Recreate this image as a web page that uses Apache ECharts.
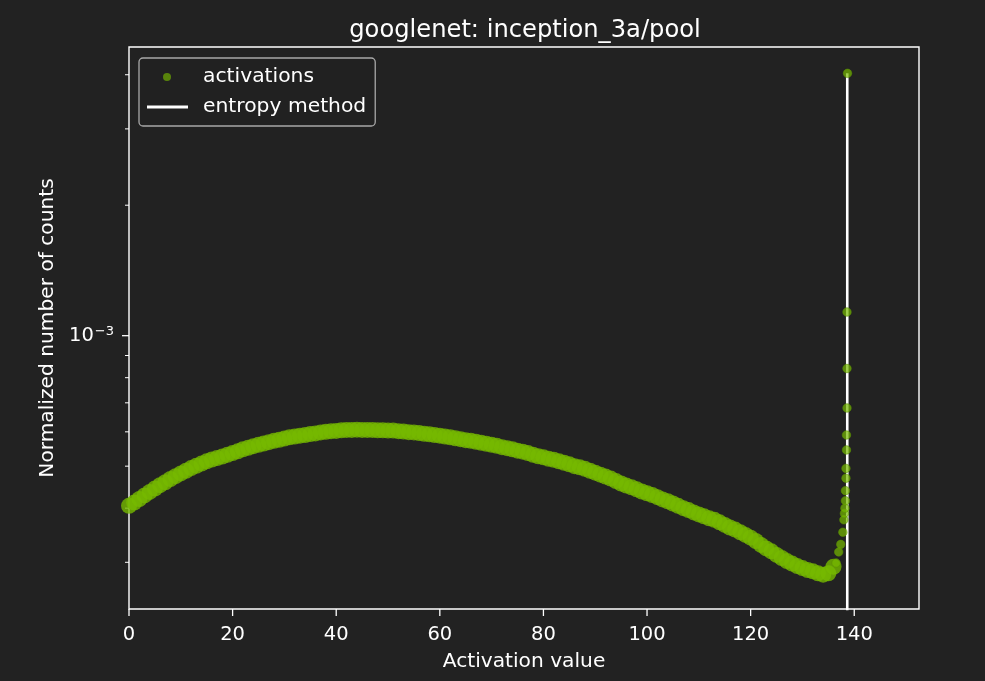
<!DOCTYPE html>
<html>
<head>
<meta charset="utf-8">
<script src="https://cdn.jsdelivr.net/npm/echarts@6/dist/echarts.min.js"></script>
<style>
html, body { margin: 0; padding: 0; background: #222222; }
#chart { width: 985px; height: 681px; }
</style>
</head>
<body>
<div id="chart"></div>
<script>
// histogram of activations (bin value -> normalized count)
const actX = [0, 1, 2, 3, 4, 5, 6, 7, 8, 9, 10, 11, 12, 13, 14, 15, 16, 17, 18, 19,
  20, 21, 22, 23, 24, 25, 26, 27, 28, 29, 30, 31, 32, 33, 34, 35, 36, 37, 38, 39,
  40, 41, 42, 43, 44, 45, 46, 47, 48, 49, 50, 51, 52, 53, 54, 55, 56, 57, 58, 59,
  60, 61, 62, 63, 64, 65, 66, 67, 68, 69, 70, 71, 72, 73, 74, 75, 76, 77, 78, 79,
  80, 81, 82, 83, 84, 85, 86, 87, 88, 89, 90, 91, 92, 93, 94, 95, 96, 97, 98, 99,
  100, 101, 102, 103, 104, 105, 106, 107, 108, 109, 110, 111, 112, 113, 114, 115, 116, 117, 118, 119,
  120, 121, 122, 123, 124, 125, 126, 127, 128, 129, 130, 131, 132, 133, 134, 135, 136]
const actY = [4.05e-4, 4.12e-4, 4.20e-4, 4.28e-4, 4.36e-4, 4.44e-4, 4.52e-4, 4.59e-4, 4.67e-4, 4.74e-4,
  4.81e-4, 4.88e-4, 4.95e-4, 5.01e-4, 5.07e-4, 5.13e-4, 5.18e-4, 5.22e-4, 5.26e-4, 5.31e-4,
  5.36e-4, 5.41e-4, 5.47e-4, 5.51e-4, 5.56e-4, 5.60e-4, 5.64e-4, 5.68e-4, 5.72e-4, 5.75e-4,
  5.79e-4, 5.83e-4, 5.85e-4, 5.88e-4, 5.90e-4, 5.93e-4, 5.95e-4, 5.98e-4, 6.00e-4, 6.02e-4,
  6.03e-4, 6.05e-4, 6.06e-4, 6.06e-4, 6.07e-4, 6.06e-4, 6.06e-4, 6.06e-4, 6.05e-4, 6.05e-4,
  6.04e-4, 6.04e-4, 6.02e-4, 6.01e-4, 5.99e-4, 5.98e-4, 5.96e-4, 5.94e-4, 5.92e-4, 5.90e-4,
  5.88e-4, 5.85e-4, 5.83e-4, 5.80e-4, 5.77e-4, 5.74e-4, 5.72e-4, 5.69e-4, 5.66e-4, 5.63e-4,
  5.60e-4, 5.57e-4, 5.53e-4, 5.50e-4, 5.47e-4, 5.43e-4, 5.40e-4, 5.36e-4, 5.31e-4, 5.27e-4,
  5.24e-4, 5.20e-4, 5.17e-4, 5.13e-4, 5.09e-4, 5.05e-4, 5.00e-4, 4.97e-4, 4.93e-4, 4.88e-4,
  4.83e-4, 4.78e-4, 4.73e-4, 4.68e-4, 4.62e-4, 4.56e-4, 4.51e-4, 4.47e-4, 4.42e-4, 4.37e-4,
  4.33e-4, 4.29e-4, 4.24e-4, 4.19e-4, 4.15e-4, 4.10e-4, 4.05e-4, 4.00e-4, 3.96e-4, 3.91e-4,
  3.87e-4, 3.83e-4, 3.79e-4, 3.76e-4, 3.71e-4, 3.66e-4, 3.61e-4, 3.57e-4, 3.52e-4, 3.47e-4,
  3.42e-4, 3.36e-4, 3.29e-4, 3.23e-4, 3.18e-4, 3.12e-4, 3.07e-4, 3.02e-4, 2.98e-4, 2.94e-4,
  2.91e-4, 2.88e-4, 2.86e-4, 2.83e-4, 2.81e-4, 2.83e-4, 2.93e-4]
// the sparse points climbing up to the last bin
const tailX = [136.5, 137, 137.4, 137.8, 138.0, 138.1, 138.2, 138.3, 138.3, 138.4, 138.4, 138.5, 138.5, 138.6, 138.6, 138.6, 138.7]
const tailY = [2.99e-4, 3.17e-4, 3.30e-4, 3.52e-4, 3.76e-4, 3.89e-4, 4.00e-4, 4.16e-4, 4.39e-4, 4.69e-4, 4.94e-4, 5.45e-4, 5.90e-4, 6.81e-4, 8.40e-4, 1.134e-3, 4.03e-3]
// threshold found by entropy calibration
const entropyX = 138.65
const entropyY = [1e-4, 4.03e-3]

const xTicks = [0, 20, 40, 60, 80, 100, 120, 140]
const yMajorTicks = [1e-3]
const yMinorTicks = [3e-4, 4e-4, 5e-4, 6e-4, 7e-4, 8e-4, 9e-4, 2e-3, 3e-3, 4e-3]

const FONT = 'DejaVu Sans'
const GREEN = '#76b900'

const chartDom = document.getElementById('chart')
const myChart = echarts.init(chartDom)

const option = {
  backgroundColor: '#222222',
  animation: false,
  textStyle: { fontFamily: FONT, color: '#ffffff' },
  title: {
    text: 'googlenet: inception_3a/pool',
    left: 520,
    top: 14,
    textAlign: 'center',
    textStyle: { fontFamily: FONT, fontSize: 24.2, fontWeight: 'normal', color: '#ffffff' }
  },
  legend: {
    orient: 'vertical',
    left: 139,
    top: 58,
    padding: [9, 9, 9, 8],
    itemGap: 10,
    itemWidth: 51,
    itemHeight: 8,
    backgroundColor: 'rgba(34,34,34,0.8)',
    borderColor: '#a8a8a8',
    borderWidth: 1.3,
    borderRadius: 4,
    textStyle: { fontFamily: FONT, fontSize: 20.3, color: '#ffffff' },
    data: [
      {
        name: 'activations',
        icon: 'path://M0,4L0,4M16,4A4,4,0,1,1,24,4A4,4,0,1,1,16,4ZM51,4L51,4',
        itemStyle: { color: GREEN, opacity: 0.65, borderWidth: 0 }
      },
      {
        name: 'entropy method',
        icon: 'path://M0,0L41,0L41,2.8L0,2.8ZM51,1.4L51,1.4',
        itemStyle: { color: '#ffffff', borderWidth: 0 }
      }
    ]
  },
  grid: {
    left: 129,
    right: 66,
    top: 47,
    bottom: 72,
    show: true,
    borderColor: '#ffffff',
    borderWidth: 1.4,
    backgroundColor: 'transparent'
  },
  xAxis: {
    type: 'value',
    min: 0,
    max: 152.5,
    interval: 20,
    name: 'Activation value',
    nameLocation: 'middle',
    nameGap: 43,
    nameTextStyle: { fontFamily: FONT, fontSize: 20.2, color: '#ffffff' },
    axisLine: { show: false },
    axisTick: { show: false },
    splitLine: { show: false },
    axisLabel: {
      margin: 16,
      showMaxLabel: false,
      fontFamily: FONT,
      fontSize: 19.5,
      color: '#ffffff',
      formatter: v => (xTicks.indexOf(v) >= 0 ? String(v) : '')
    }
  },
  yAxis: {
    type: 'log',
    logBase: 10,
    min: 2.341e-4,
    max: 4.635e-3,
    name: 'Normalized number of counts',
    nameLocation: 'middle',
    nameGap: 66,
    nameTextStyle: { fontFamily: FONT, fontSize: 20.2, color: '#ffffff' },
    axisLine: { show: false },
    axisTick: { show: false },
    splitLine: { show: false },
    minorTick: { show: false },
    axisLabel: {
      margin: 15,
      showMinLabel: false,
      showMaxLabel: false,
      formatter: v => {
        const e = Math.log10(v)
        if (Math.abs(e - Math.round(e)) > 1e-6) return ''
        return '{b|10}{s|' + (Math.round(e) < 0 ? '\u2212' : '') + Math.abs(Math.round(e)) + '}'
      },
      rich: {
        b: { fontFamily: FONT, fontSize: 19.5, lineHeight: 21, verticalAlign: 'bottom', color: '#ffffff' },
        s: { fontFamily: FONT, fontSize: 13, lineHeight: 13, verticalAlign: 'top', color: '#ffffff', padding: [0, 0, 0, 1] }
      }
    }
  },
  series: [
    {
      name: 'entropy method',
      type: 'line',
      showSymbol: false,
      z: 2,
      data: entropyY.map(y => [entropyX, y]),
      lineStyle: { color: '#ffffff', width: 2.6 },
      itemStyle: { color: '#ffffff' }
    },
    {
      name: 'activations',
      type: 'scatter',
      z: 3,
      symbolSize: 16,
      data: actX.map((x, i) => [x, actY[i]]),
      itemStyle: { color: GREEN, opacity: 0.8, borderWidth: 0 }
    },
    {
      name: 'activations',
      type: 'scatter',
      z: 3,
      symbolSize: 8.5,
      data: tailX.map((x, i) => [x, tailY[i]]),
      itemStyle: { color: GREEN, opacity: 0.7, borderColor: '#5a9200', borderWidth: 0.8 }
    }
  ]
}

myChart.setOption(option)

// matplotlib-style ticks: outward, with log minor ticks on y
function tickMarks() {
  const els = []
  const yBottom = myChart.convertToPixel({ gridIndex: 0 }, [0, 2.341e-4])[1]
  xTicks.forEach(t => {
    const px = myChart.convertToPixel({ gridIndex: 0 }, [t, 1e-3])[0]
    els.push({ type: 'line', shape: { x1: px, y1: yBottom, x2: px, y2: yBottom + 7 }, style: { stroke: '#ffffff', lineWidth: 1.3 } })
  })
  const xLeft = myChart.convertToPixel({ gridIndex: 0 }, [0, 1e-3])[0]
  yMajorTicks.forEach(t => {
    const py = myChart.convertToPixel({ gridIndex: 0 }, [0, t])[1]
    els.push({ type: 'line', shape: { x1: xLeft - 7, y1: py, x2: xLeft, y2: py }, style: { stroke: '#ffffff', lineWidth: 1.3 } })
  })
  yMinorTicks.forEach(t => {
    const py = myChart.convertToPixel({ gridIndex: 0 }, [0, t])[1]
    els.push({ type: 'line', shape: { x1: xLeft - 4, y1: py, x2: xLeft, y2: py }, style: { stroke: '#ffffff', lineWidth: 1 } })
  })
  return els
}

myChart.setOption({ graphic: tickMarks() })
window.addEventListener('resize', () => myChart.resize())
</script>
</body>
</html>
